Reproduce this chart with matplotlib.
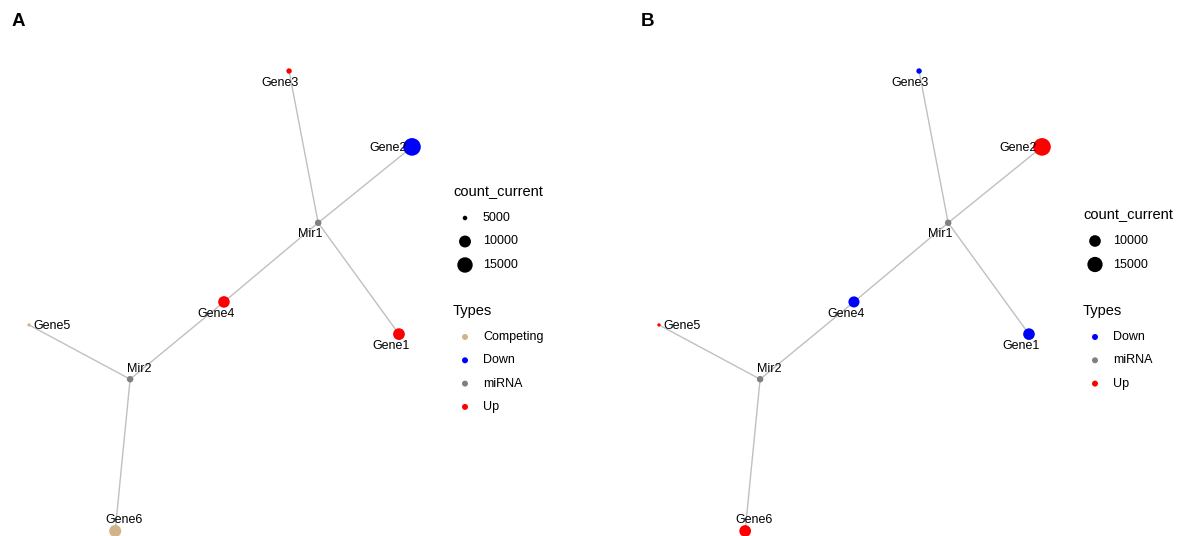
import numpy as np
import matplotlib
matplotlib.use("Agg")
import matplotlib.pyplot as plt

plt.rcParams['font.family'] = ['Liberation Sans', 'DejaVu Sans']

W, H = 1180, 536

# network: nodes, layout and edges
nodes = ["Gene1", "Gene2", "Gene3", "Gene4", "Gene5", "Gene6", "Mir1", "Mir2"]
layout_x = [0.966, 1.0, 0.679, 0.509, 0.0, 0.225, 0.755, 0.264]
layout_y = [0.428, 0.835, 1.0, 0.498, 0.448, 0.0, 0.670, 0.330]
edges = [("Mir1", "Gene1"), ("Mir1", "Gene2"), ("Mir1", "Gene3"), ("Mir1", "Gene4"),
         ("Mir2", "Gene4"), ("Mir2", "Gene5"), ("Mir2", "Gene6")]

types_a = ["Up", "Down", "Up", "Up", "Competing", "Competing", "miRNA", "miRNA"]
types_b = ["Down", "Up", "Down", "Down", "Up", "Up", "miRNA", "miRNA"]
count_a = [9800, 19000, 5200, 9600, 4900, 10200, np.nan, np.nan]
count_b = [10000, 19200, 5600, 9400, 5300, 10100, np.nan, np.nan]
breaks_a = [5000, 10000, 15000]
breaks_b = [10000, 15000]
levels_a = ["Competing", "Down", "miRNA", "Up"]
levels_b = ["Down", "miRNA", "Up"]

type_colors = {"Competing": "#D2B48C", "Down": "#0000FF", "miRNA": "#808080", "Up": "#FF0000"}

# label offsets in pixels (dx, dy downward)
label_off = {"Gene1": (-8, 12), "Gene2": (-24, 1), "Gene3": (-9, 12), "Gene4": (-8, 12),
             "Gene5": (23, 1), "Gene6": (9, -11), "Mir1": (-8, 11), "Mir2": (9, -10)}

PX2PT = 72 / 100


def diam_px(v, vmin, vmax):
    # ggplot-like area scale, size range 1..6
    frac = (v - vmin) / (vmax - vmin)
    return 2.85 * (1 + 5 * np.sqrt(frac)) + 0.5


def draw_net(left_px, types, counts, letter):
    ax = fig.add_axes([left_px / W, 5 / H, 383 / W, 460 / H])
    ax.set_xlim(0, 1)
    ax.set_ylim(0, 1)
    ax.axis("off")
    pos = {n: (x, y) for n, x, y in zip(nodes, layout_x, layout_y)}
    for a, b in edges:
        ax.plot([pos[a][0], pos[b][0]], [pos[a][1], pos[b][1]],
                color="#C0C0C0", lw=1.0, zorder=1, clip_on=False)
    c = np.array(counts, dtype=float)
    vmin, vmax = np.nanmin(c), np.nanmax(c)
    for n, t, v in zip(nodes, types, c):
        d = 6.5 if np.isnan(v) else diam_px(v, vmin, vmax)
        ax.scatter(pos[n][0], pos[n][1], s=(d * PX2PT) ** 2, color=type_colors[t],
                   edgecolors="none", zorder=2, clip_on=False)
        dx, dy = label_off[n]
        ax.annotate(n, pos[n], xytext=(dx * PX2PT, -dy * PX2PT), textcoords="offset points",
                    ha="center", va="center", fontsize=9, color="black", zorder=3)
    fig.text((left_px - 11) / W, 1 - 22 / H, letter, fontsize=13.5, fontweight="bold",
             ha="center", va="center")
    return vmin, vmax


def draw_legend(x0, y_size, breaks, vmin, vmax, y_type, levels):
    leg.text(x0, y_size, "count_current", fontsize=10.5, va="center", ha="left", color="black")
    for i, b in enumerate(breaks):
        y = y_size + 26 + i * 23.5
        d = diam_px(b, vmin, vmax)
        leg.scatter(x0 + 12, y, s=(d * PX2PT) ** 2, color="black", edgecolors="none")
        leg.text(x0 + 30, y, f"{b}", fontsize=9, va="center", ha="left", color="black")
    leg.text(x0, y_type, "Types", fontsize=10.5, va="center", ha="left", color="black")
    for i, lv in enumerate(levels):
        y = y_type + 26 + i * 23.3
        leg.scatter(x0 + 12, y, s=(6 * PX2PT) ** 2, color=type_colors[lv], edgecolors="none")
        leg.text(x0 + 30, y, lv, fontsize=9, va="center", ha="left", color="black")


fig = plt.figure(figsize=(W / 100, H / 100), dpi=100)
fig.patch.set_facecolor("white")

leg = fig.add_axes([0, 0, 1, 1])
leg.set_xlim(0, W)
leg.set_ylim(H, 0)
leg.axis("off")

vmin_a, vmax_a = draw_net(29, types_a, count_a, "A")
vmin_b, vmax_b = draw_net(659, types_b, count_b, "B")

draw_legend(453, 192, breaks_a, vmin_a, vmax_a, 311, levels_a)
draw_legend(1083, 215, breaks_b, vmin_b, vmax_b, 311, levels_b)

fig.savefig("out.png", dpi=100, facecolor="white")
